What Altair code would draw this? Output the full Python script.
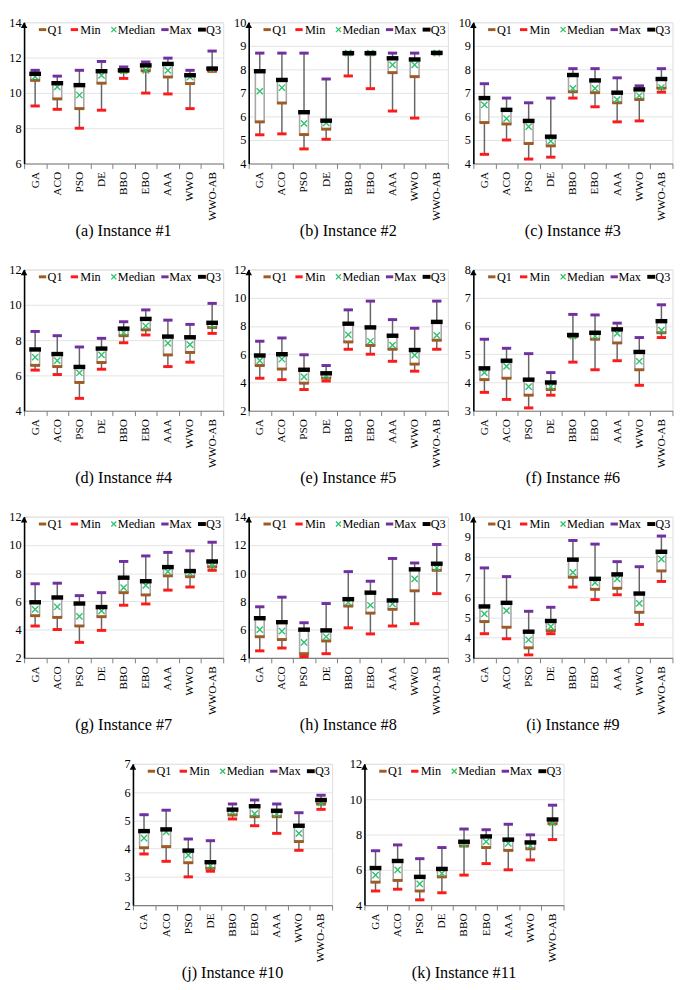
import altair as alt
import pandas as pd

CATS = ["GA", "ACO", "PSO", "DE", "BBO", "EBO", "AAA", "WWO", "WWO-AB"]
STATS = ["Q1", "Min", "Median", "Max", "Q3"]
STAT_COLORS = ["#9E5B25", "#FF1A1A", "#2BC36B", "#7030A0", "#000000"]
X_PATH = "M-1,-1L1,1M-1,1L1,-1"
STAT_SHAPES = ["stroke", "stroke", X_PATH, "stroke", "stroke"]
STAT_SIZES = [100, 90, 40, 90, 144]
STAT_WIDTHS = [3, 3, 1.4, 3, 4.5]
# legend layout (pixel offsets inside each panel)
LEG_SYM_X = [18.8, 51.3, 91.5, 143.6, 181.3]
LEG_TXT_X = [24, 57.3, 95.5, 148, 185.5]
LEG_SYM_SIZES = [56, 56, 26, 56, 64]
LEG_SYM_WIDTHS = [3, 3, 1.3, 3, 4]
LEG_Y = 7.5

# Instance 1
I1_MIN = [9.26, 9.07, 8.00, 9.02, 10.82, 9.99, 9.94, 9.11, 11.22]
I1_Q1 = [10.71, 9.66, 9.11, 10.55, 11.20, 11.25, 10.90, 10.53, 11.27]
I1_MED = [10.92, 10.34, 9.88, 10.99, 11.25, 11.28, 11.28, 10.90, 11.30]
I1_Q3 = [11.08, 10.55, 10.44, 11.23, 11.28, 11.56, 11.64, 11.00, 11.38]
I1_MAX = [11.28, 10.95, 11.28, 11.78, 11.47, 11.75, 11.97, 11.28, 12.37]
# Instance 2
I2_MIN = [5.22, 5.26, 4.62, 5.03, 7.72, 7.18, 6.23, 5.93, 8.66]
I2_Q1 = [5.77, 6.57, 5.23, 5.46, 8.64, 8.64, 7.86, 7.69, 8.68]
I2_MED = [7.07, 7.22, 5.70, 5.73, 8.69, 8.69, 8.19, 8.19, 8.69]
I2_Q3 = [7.92, 7.55, 6.18, 5.82, 8.69, 8.69, 8.47, 8.42, 8.70]
I2_MAX = [8.69, 8.69, 8.69, 7.59, 8.69, 8.69, 8.69, 8.69, 8.70]
# Instance 3
I3_MIN = [4.39, 5.00, 4.19, 4.27, 6.78, 6.41, 5.77, 5.81, 7.03]
I3_Q1 = [5.74, 5.68, 4.85, 4.75, 7.05, 7.01, 6.58, 6.72, 7.20]
I3_MED = [6.49, 5.91, 5.57, 4.95, 7.19, 7.19, 6.72, 6.88, 7.23]
I3_Q3 = [6.78, 6.28, 5.81, 5.14, 7.76, 7.53, 7.01, 7.15, 7.59]
I3_MAX = [7.39, 6.78, 6.58, 6.78, 8.03, 8.03, 7.64, 7.30, 8.03]
# Instance 4
I4_MIN = [6.30, 6.05, 4.70, 6.35, 7.85, 8.29, 6.50, 6.75, 8.38]
I4_Q1 = [6.57, 6.50, 5.60, 6.73, 8.25, 8.58, 7.16, 7.30, 8.71]
I4_MED = [7.03, 6.84, 6.15, 7.16, 8.43, 8.80, 7.83, 7.74, 8.84]
I4_Q3 = [7.47, 7.21, 6.48, 7.52, 8.65, 9.20, 8.20, 8.16, 8.98]
I4_MAX = [8.49, 8.25, 7.61, 8.10, 9.04, 9.71, 9.13, 8.89, 10.08]
# Instance 5
I5_MIN = [4.30, 4.20, 3.50, 4.10, 6.35, 6.00, 5.50, 4.80, 6.35]
I5_Q1 = [5.20, 4.95, 3.95, 4.30, 6.87, 6.62, 6.35, 5.30, 6.99]
I5_MED = [5.55, 5.66, 4.40, 4.50, 7.38, 6.92, 6.65, 5.94, 7.33]
I5_Q3 = [5.91, 6.00, 4.90, 4.65, 8.16, 7.90, 7.31, 6.30, 8.29]
I5_MAX = [6.92, 7.15, 5.96, 5.20, 9.14, 9.76, 8.45, 7.84, 9.76]
# Instance 6
I6_MIN = [3.65, 3.40, 3.10, 3.55, 4.72, 4.45, 4.77, 3.90, 5.59]
I6_Q1 = [4.10, 4.15, 3.55, 3.75, 5.62, 5.53, 5.40, 4.45, 5.76]
I6_MED = [4.35, 4.57, 3.85, 3.85, 5.64, 5.64, 5.74, 4.75, 5.85]
I6_Q3 = [4.50, 4.77, 4.10, 4.00, 5.68, 5.76, 5.88, 5.08, 6.17]
I6_MAX = [5.53, 5.21, 5.02, 4.35, 6.41, 6.39, 6.10, 5.59, 6.75]
# Instance 7
I7_MIN = [4.26, 4.01, 3.10, 3.95, 5.73, 5.82, 6.80, 7.02, 8.20]
I7_Q1 = [4.99, 4.87, 4.26, 4.92, 6.62, 6.46, 7.81, 7.75, 8.45]
I7_MED = [5.44, 5.62, 4.94, 5.33, 6.98, 7.14, 8.11, 8.00, 8.54]
I7_Q3 = [5.94, 6.28, 5.85, 5.60, 7.68, 7.43, 8.43, 8.15, 8.83]
I7_MAX = [7.25, 7.29, 6.41, 6.62, 8.83, 9.22, 9.47, 9.58, 10.19]
# Instance 8
I8_MIN = [4.50, 4.70, 4.10, 4.30, 6.13, 5.70, 6.26, 6.42, 8.55]
I8_Q1 = [5.50, 5.30, 4.30, 5.20, 7.67, 7.17, 7.44, 8.75, 10.20]
I8_MED = [6.00, 5.90, 5.10, 5.50, 7.94, 7.73, 7.82, 9.59, 10.38]
I8_Q3 = [6.81, 6.53, 6.00, 5.95, 8.16, 8.62, 8.07, 10.27, 10.67]
I8_MAX = [7.62, 8.30, 6.49, 7.85, 10.11, 9.43, 11.04, 10.72, 12.03]
# Instance 9
I9_MIN = [4.20, 3.95, 3.15, 4.20, 6.51, 5.89, 6.13, 4.66, 6.79]
I9_Q1 = [4.80, 4.52, 3.50, 4.35, 7.00, 6.40, 6.45, 5.26, 7.31]
I9_MED = [5.18, 5.34, 3.90, 4.55, 7.24, 6.73, 6.92, 5.70, 7.90]
I9_Q3 = [5.55, 5.73, 4.30, 4.83, 7.87, 6.92, 7.14, 6.19, 8.26]
I9_MAX = [7.46, 7.03, 5.31, 5.51, 8.82, 8.64, 7.77, 7.52, 9.04]
# Instance 10
I10_MIN = [3.81, 3.55, 3.00, 3.20, 5.05, 4.81, 4.54, 3.94, 5.39]
I10_Q1 = [4.03, 4.07, 3.50, 3.30, 5.19, 5.13, 5.13, 4.25, 5.58]
I10_MED = [4.37, 4.59, 3.77, 3.40, 5.30, 5.24, 5.22, 4.54, 5.62]
I10_Q3 = [4.62, 4.68, 3.93, 3.52, 5.38, 5.50, 5.34, 4.81, 5.72]
I10_MAX = [5.20, 5.36, 4.34, 4.28, 5.58, 5.72, 5.58, 5.27, 5.89]
# Instance 11
I11_MIN = [4.80, 4.90, 4.30, 4.70, 5.70, 6.35, 6.00, 6.56, 7.71]
I11_Q1 = [5.30, 5.40, 4.80, 5.60, 7.35, 7.26, 7.10, 7.19, 8.61]
I11_MED = [5.70, 6.00, 5.20, 5.80, 7.44, 7.59, 7.50, 7.37, 8.67]
I11_Q3 = [6.10, 6.50, 5.60, 6.05, 7.59, 7.89, 7.71, 7.55, 8.85]
I11_MAX = [7.08, 7.41, 6.63, 7.26, 8.31, 8.27, 8.58, 7.98, 9.66]

PANELS = [
    ("(a) Instance #1", I1_MIN, I1_Q1, I1_MED, I1_Q3, I1_MAX, 6, 14, 2),
    ("(b) Instance #2", I2_MIN, I2_Q1, I2_MED, I2_Q3, I2_MAX, 4, 10, 1),
    ("(c) Instance #3", I3_MIN, I3_Q1, I3_MED, I3_Q3, I3_MAX, 4, 10, 1),
    ("(d) Instance #4", I4_MIN, I4_Q1, I4_MED, I4_Q3, I4_MAX, 4, 12, 2),
    ("(e) Instance #5", I5_MIN, I5_Q1, I5_MED, I5_Q3, I5_MAX, 2, 12, 2),
    ("(f) Instance #6", I6_MIN, I6_Q1, I6_MED, I6_Q3, I6_MAX, 3, 8, 1),
    ("(g) Instance #7", I7_MIN, I7_Q1, I7_MED, I7_Q3, I7_MAX, 2, 12, 2),
    ("(h) Instance #8", I8_MIN, I8_Q1, I8_MED, I8_Q3, I8_MAX, 4, 14, 2),
    ("(i) Instance #9", I9_MIN, I9_Q1, I9_MED, I9_Q3, I9_MAX, 3, 10, 1),
    ("(j) Instance #10", I10_MIN, I10_Q1, I10_MED, I10_Q3, I10_MAX, 2, 7, 1),
    ("(k) Instance #11", I11_MIN, I11_Q1, I11_MED, I11_Q3, I11_MAX, 4, 12, 2),
]

FONT = "Liberation Serif"
W, H = 203, 144


def panel(caption, mn, q1, med, q3, mx, lo, hi, step):
    wide = pd.DataFrame({"alg": CATS, "Min": mn, "Q1": q1, "Median": med, "Q3": q3, "Max": mx})
    long = wide.melt(id_vars="alg", value_vars=STATS, var_name="stat", value_name="val")
    ticks = list(range(lo, hi + 1, step))
    xenc = alt.X(
        "alg:N", sort=CATS, title=None,
        scale=alt.Scale(paddingInner=0, paddingOuter=0),
        axis=alt.Axis(labelAngle=-90, labelFont=FONT, labelFontSize=11.5, labelColor="black",
                      labelPadding=3, tickBand="extent", tickSize=5, tickColor="#7f7f7f",
                      domainColor="#7f7f7f", domainWidth=1.2, grid=False),
    )
    yscale = alt.Scale(domain=[lo, hi], nice=False, zero=False)
    yaxis = alt.Axis(values=ticks, grid=True, gridColor="#e3e3e3", gridWidth=1, ticks=False,
                     domainColor="black", domainWidth=1.6, labelFont=FONT, labelFontSize=12.5,
                     labelColor="black", labelPadding=3, minExtent=15, maxExtent=15, title=None)
    base = alt.Chart(wide)
    whisk = base.mark_rule(color="#666666", strokeWidth=1.5).encode(
        x=xenc, y=alt.Y("Min:Q", scale=yscale, axis=yaxis), y2="Max:Q")
    box = base.mark_bar(size=9, fill="white", stroke="#a8a8a8", strokeWidth=1.6).encode(
        x=xenc, y=alt.Y("Q1:Q", scale=yscale, axis=yaxis), y2="Q3:Q")
    layers = [whisk, box]
    for s, col, shp, sz, sw in zip(STATS, STAT_COLORS, STAT_SHAPES, STAT_SIZES, STAT_WIDTHS):
        layers.append(
            alt.Chart(long).transform_filter(alt.datum.stat == s).mark_point(
                filled=False, opacity=1, shape=shp, color=col, size=sz, strokeWidth=sw).encode(
                x=xenc, y=alt.Y("val:Q", scale=yscale, axis=yaxis))
        )
    # legend (drawn inside the plot, top)
    for s, col, shp, sz, sw, px in zip(STATS, STAT_COLORS, STAT_SHAPES, LEG_SYM_SIZES,
                                       LEG_SYM_WIDTHS, LEG_SYM_X):
        layers.append(
            alt.Chart(pd.DataFrame({"stat": [s]})).mark_point(
                filled=False, opacity=1, shape=shp, color=col, size=sz, strokeWidth=sw).encode(
                x=alt.value(px), y=alt.value(LEG_Y))
        )
    leg_txt = pd.DataFrame({"label": STATS, "px": LEG_TXT_X})
    layers.append(
        alt.Chart(leg_txt).mark_text(align="left", baseline="middle", font=FONT, fontSize=12.5,
                                     color="black").encode(
            x=alt.X("px:Q", scale=None, axis=None), y=alt.value(LEG_Y), text="label:N")
    )
    arrow = alt.Chart(pd.DataFrame({"v": [hi]})).mark_point(
        shape="triangle-up", filled=True, color="black", size=45, yOffset=3, opacity=1).encode(
        x=alt.value(0), y=alt.Y("v:Q", scale=yscale, axis=yaxis))
    layers.append(arrow)
    return alt.layer(*layers).properties(
        width=W, height=H,
        title=alt.Title(caption, orient="bottom", font=FONT, fontSize=16.5, fontWeight="normal",
                        color="black", offset=3, anchor="middle"),
    )


charts = [panel(*p) for p in PANELS]
rows = [
    alt.hconcat(charts[0], charts[1], charts[2], spacing=5),
    alt.hconcat(charts[3], charts[4], charts[5], spacing=5),
    alt.hconcat(charts[6], charts[7], charts[8], spacing=5),
    alt.hconcat(charts[9], charts[10], spacing=12),
]
chart = alt.vconcat(*rows, spacing=23, center=True).properties(
    padding={"left": 0, "top": -2, "right": 0, "bottom": 0}
).configure_view(stroke=None).configure(font=FONT).configure_axis(
    labelFont=FONT).configure_title(font=FONT)

chart.save("out.html", embed_options={"renderer": "svg", "actions": False})
